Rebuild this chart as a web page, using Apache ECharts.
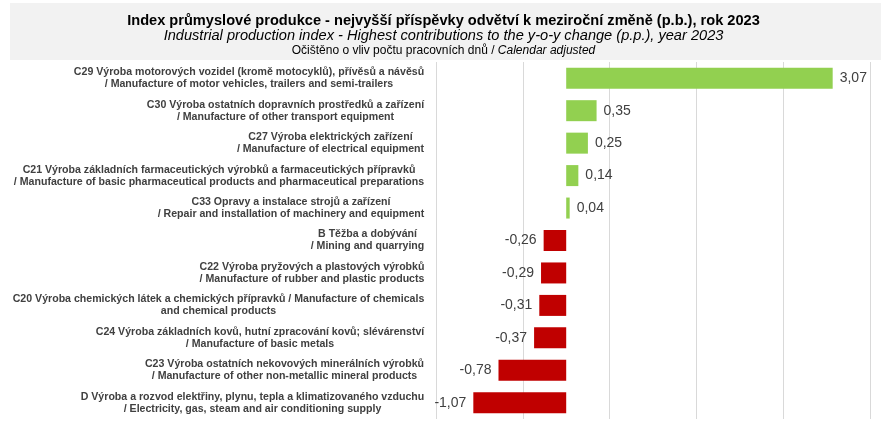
<!DOCTYPE html>
<html>
<head>
<meta charset="utf-8">
<script src="https://cdn.jsdelivr.net/npm/echarts@6/dist/echarts.min.js"></script>
<style>
	html, body { margin: 0; padding: 0; background: #fff; }
	#chart { width: 887px; height: 425px; }
</style>
</head>
<body>
<div id="chart"></div>
<script>
// odvětví (shora dolů)
let categories = [
	['C29 Výroba motorových vozidel (kromě motocyklů), přívěsů a návěsů', '/ Manufacture of motor vehicles, trailers and semi-trailers'],
	['C30 Výroba ostatních dopravních prostředků a zařízení', '/ Manufacture of other transport equipment'],
	['C27 Výroba elektrických zařízení', '/ Manufacture of electrical equipment'],
	['C21 Výroba základních farmaceutických výrobků a farmaceutických přípravků', '/ Manufacture of basic pharmaceutical products and pharmaceutical preparations'],
	['C33 Opravy a instalace strojů a zařízení', '/ Repair and installation of machinery and equipment'],
	['B Těžba a dobývání', '/ Mining and quarrying'],
	['C22 Výroba pryžových a plastových výrobků', '/ Manufacture of rubber and plastic products'],
	['C20 Výroba chemických látek a chemických přípravků / Manufacture of chemicals', 'and chemical products'],
	['C24 Výroba základních kovů, hutní zpracování kovů; slévárenství', '/ Manufacture of basic metals'],
	['C23 Výroba ostatních nekovových minerálních výrobků', '/ Manufacture of other non-metallic mineral products'],
	['D Výroba a rozvod elektřiny, plynu, tepla a klimatizovaného vzduchu', '/ Electricity, gas, steam and air conditioning supply'],
];
// příspěvky v p.b.
let values = [3.07, 0.35, 0.25, 0.14, 0.04, -0.26, -0.29, -0.31, -0.37, -0.78, -1.07];
// nadpisy
let titles = [
	'Index průmyslové produkce - nejvyšší příspěvky odvětví k meziroční změně (p.b.), rok 2023',
	'Industrial production index - Highest contributions to the y-o-y change (p.p.), year 2023',
];
let subtitle_cz = 'Očištěno o vliv počtu pracovních dnů / ';
let subtitle_en = 'Calendar adjusted';

let font = '"Liberation Sans", Arial, sans-serif';
let label_size = 10.6;
let green = '#92d050';
let red = '#c00000';

// šířka bloku popisku, aby řádky byly zarovnané na střed
let ctx = document.createElement('canvas').getContext('2d');
ctx.font = `bold ${label_size}px ${font}`;
let rich = {};
categories.forEach((c, i) => {
	let w = Math.max(ctx.measureText(c[0]).width, ctx.measureText(c[1]).width);
	rich['r' + i] = {
		width: Math.ceil(w) + 1,
		align: 'center',
		fontFamily: font,
		fontWeight: 'bold',
		fontSize: label_size,
		lineHeight: 12,
		color: '#404040',
	};
});
let cat_names = categories.map((c) => c.join('\n'));

let bar_data = values.map((v) => ({
	value: v,
	itemStyle: { color: v >= 0 ? green : red },
	label: { position: v >= 0 ? 'right' : 'left' },
}));

let chart = echarts.init(document.getElementById('chart'));
chart.setOption({
	animation: false,
	backgroundColor: '#fff',
	graphic: [
		{
			type: 'rect',
			shape: { x: 10, y: 3, width: 871, height: 57 },
			style: { fill: '#f2f2f2' },
			z: -10,
		},
	],
	title: [
		{
			text: titles[0],
			left: 'center',
			top: 8,
			textStyle: { fontFamily: font, fontWeight: 'bold', fontSize: 14.6, color: '#000' },
		},
		{
			text: titles[1],
			left: 'center',
			top: 23.5,
			textStyle: { fontFamily: font, fontWeight: 'normal', fontStyle: 'italic', fontSize: 14.6, color: '#000' },
		},
		{
			text: `{a|${subtitle_cz}}{b|${subtitle_en}}`,
			left: 'center',
			top: 39.5,
			textStyle: {
				rich: {
					a: { fontFamily: font, fontWeight: 'normal', fontSize: 12, color: '#000' },
					b: { fontFamily: font, fontWeight: 'normal', fontSize: 12, fontStyle: 'italic', color: '#000' },
				},
			},
		},
	],
	grid: { left: 436, right: 17, top: 62, height: 357, containLabel: false, outerBoundsMode: 'none' },
	xAxis: [
		{
			type: 'value',
			min: -1.5,
			max: 3.5,
			axisLabel: { show: false },
			axisLine: { show: false },
			axisTick: { show: false },
			splitLine: { show: false },
		},
		{
			// pomocná osa jen pro mřížku
			type: 'value',
			min: 0,
			max: 5,
			interval: 1,
			position: 'bottom',
			axisLabel: { show: false },
			axisLine: { show: false },
			axisTick: { show: false },
			splitLine: { show: true, lineStyle: { color: '#d9d9d9', width: 1 } },
		},
	],
	yAxis: {
		type: 'category',
		inverse: true,
		data: cat_names,
		axisLine: { show: false },
		axisTick: { show: false },
		axisLabel: {
			margin: 11,
			align: 'right',
			formatter: (val, i) => {
				let c = categories[i];
				return `{r${i}|${c[0]}}\n{r${i}|${c[1]}}`;
			},
			rich: rich,
		},
	},
	series: [
		{
			type: 'bar',
			xAxisIndex: 0,
			data: bar_data,
			barWidth: 21,
			label: {
				show: true,
				distance: 7,
				fontFamily: font,
				fontSize: 14,
				color: '#404040',
				formatter: (p) => p.value.toFixed(2).replace('.', ','),
			},
		},
	],
});
</script>
</body>
</html>
